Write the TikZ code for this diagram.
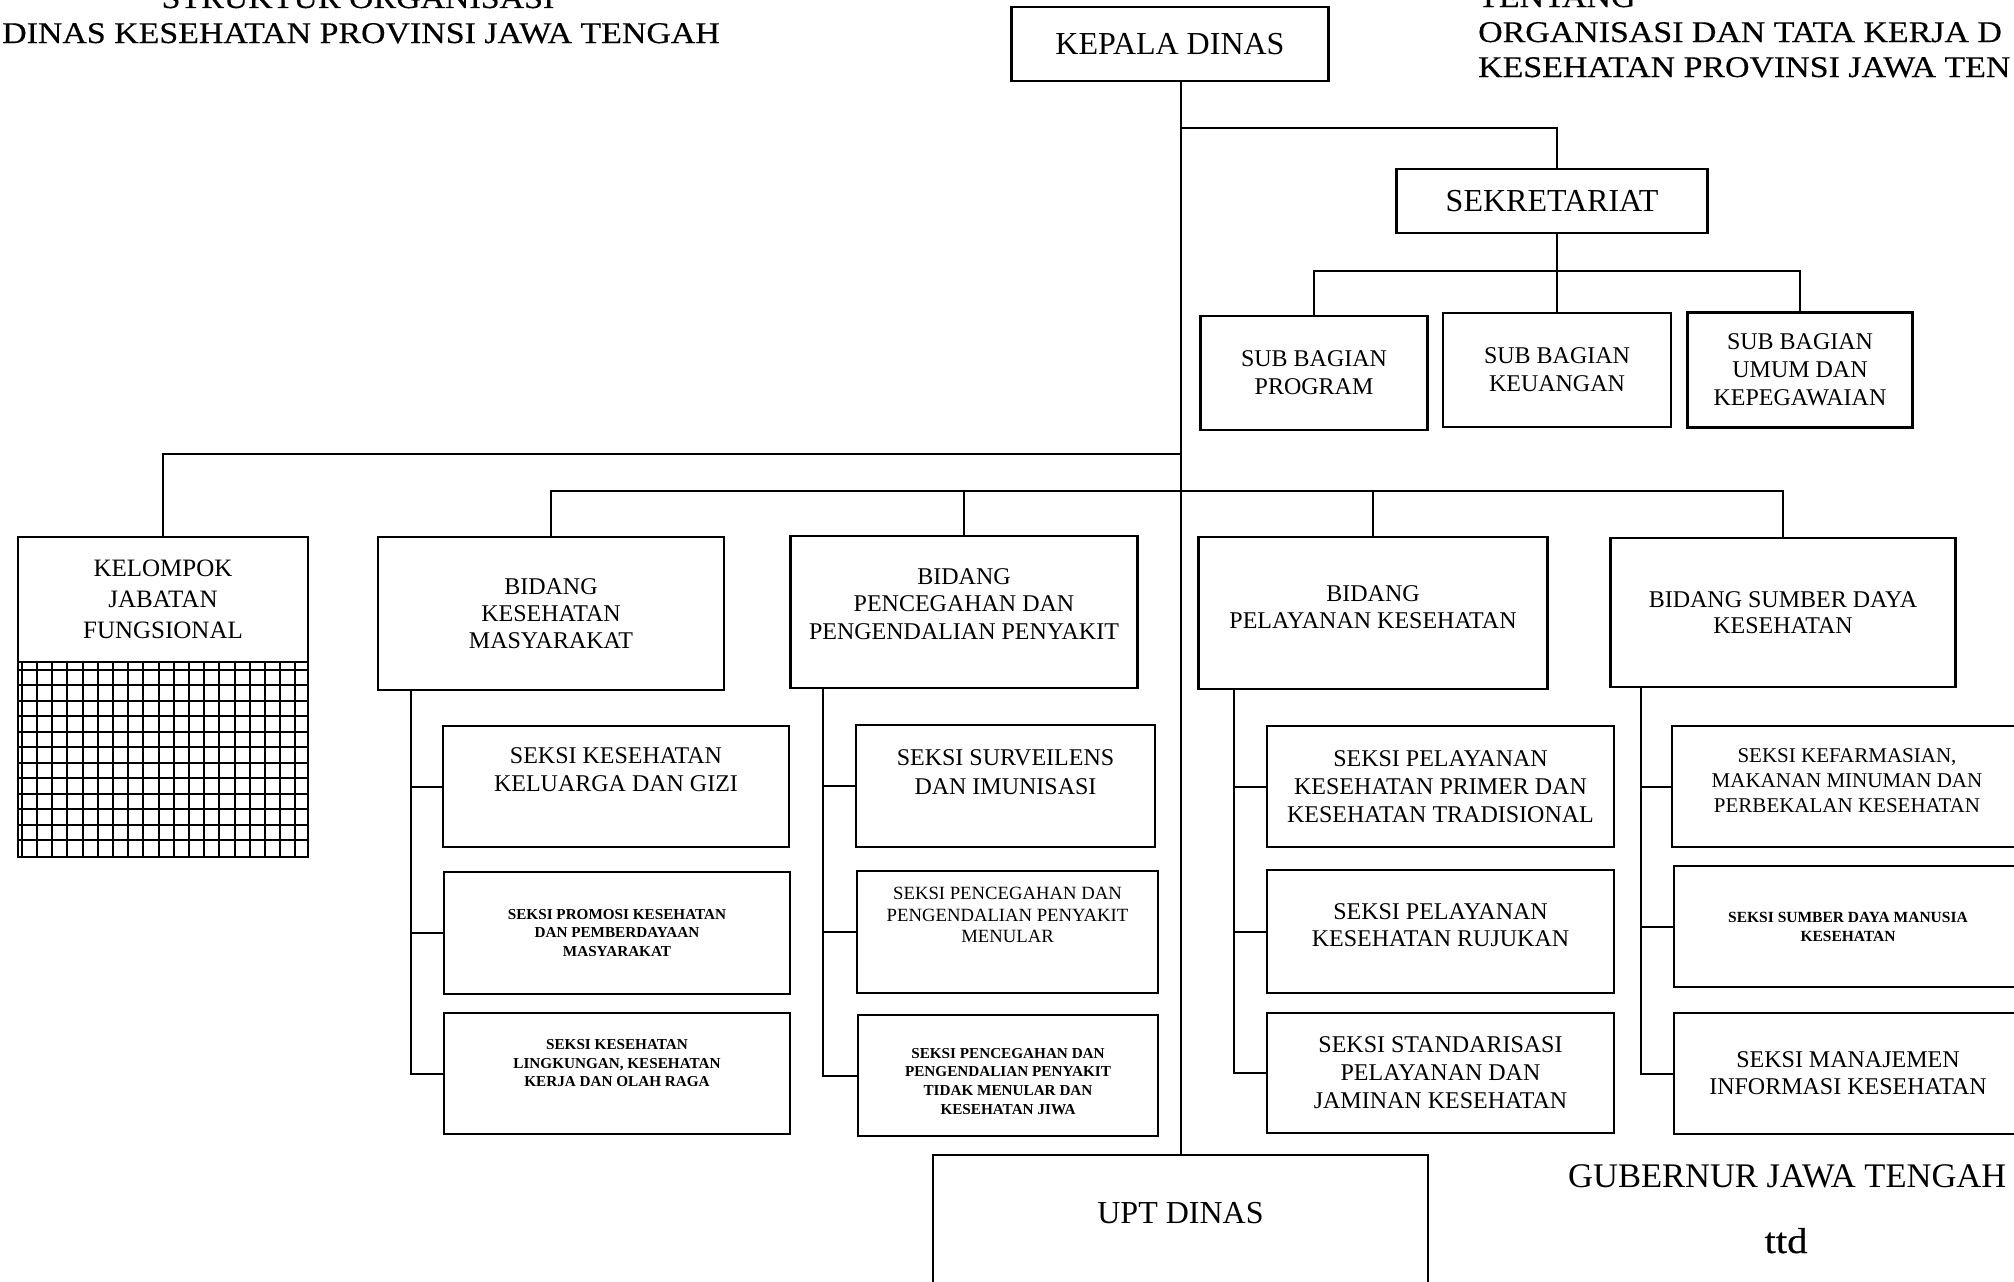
\documentclass[tikz,border=0pt]{standalone}
\usepackage{fontspec}
\setmainfont{Liberation Serif}
\newfontfamily\headfont{Liberation Serif}[FakeStretch=1.13, FakeBold=0.35]
\usetikzlibrary{positioning}
\newcommand{\fsize}[2]{\fontsize{#1}{#2}\selectfont}
\newcommand{\liftbox}[2]{\raisebox{#1}[\height][\depth]{\begin{tabular}{@{}c@{}}#2\end{tabular}}}

\begin{document}
\begin{tikzpicture}[x=1pt, y=-1pt,
    box/.style={draw, line width=2.6pt, rectangle, inner sep=0pt, outer sep=0pt, align=center},
    sz/.style 2 args={minimum width=#1pt, minimum height=#2pt},
    big/.style={box, font=\fsize{32}{36}},
    mid/.style={box, font=\fsize{24}{28}},
    small/.style={box, font=\bfseries\fsize{15.2}{18.5}},
    link/.style={line width=2pt},
    grid/.style={line width=2pt},
    head/.style={inner sep=0pt, font=\headfont\fsize{30}{35}}]
            \fill[white] (0,0) rectangle (2014,1282);
            \useasboundingbox (0,0) rectangle (2014,1282);

            \node[head, anchor=base] (struktur) at (358,8) {STRUKTUR ORGANISASI};
            \node[head, anchor=base west] (dinas) at (2,43) {DINAS KESEHATAN PROVINSI JAWA TENGAH};
            \node[head, anchor=base west] (tentang) at (1478,7) {TENTANG};
            \node[head, anchor=base west] (orgtata) at (1478,42) {ORGANISASI DAN TATA KERJA D};
            \node[head, anchor=base west] (kesprov) at (1478,77) {KESEHATAN PROVINSI JAWA TEN};

            \node[big, sz={317}{74}] (kepala) at (1170,44) {KEPALA DINAS};
            \node[big, sz={311}{64}] (sekre) at (1552,201) {SEKRETARIAT};
            \node[mid, sz={227}{114}] (program) at (1314,373) {SUB BAGIAN\\PROGRAM};
            \node[mid, sz={228}{114}] (keuangan) at (1557,370) {SUB BAGIAN\\KEUANGAN};
            \node[mid, sz={225}{115}] (umum) at (1800,370) {SUB BAGIAN\\UMUM DAN\\KEPEGAWAIAN};

            \node[box, sz={290}{125}, font=\fsize{25}{31}] (kelompok) at (163,599.5) {KELOMPOK\\JABATAN\\FUNGSIONAL};
            \node[box, sz={290}{195}, below=0pt of kelompok] (kjfgrid) {};

            \node[mid, sz={346}{153}, font=\fsize{24}{27}] (kesmas) at (551,613.5) {BIDANG\\KESEHATAN\\MASYARAKAT};
            \node[mid, sz={347}{152}, font=\fsize{24}{27.5}] (p2p) at (964,612) {\liftbox{6pt}{BIDANG\\PENCEGAHAN DAN\\PENGENDALIAN PENYAKIT}};
            \node[mid, sz={349}{152}, font=\fsize{24}{27}] (yankes) at (1373,613) {\liftbox{3pt}{BIDANG\\PELAYANAN KESEHATAN}};
            \node[mid, sz={345}{149}, font=\fsize{24}{26}] (sdk) at (1783,612.5) {BIDANG SUMBER DAYA\\KESEHATAN};

            \node[mid, sz={346}{121}] (kesga) at (616,786.5) {\liftbox{15pt}{SEKSI KESEHATAN\\KELUARGA DAN GIZI}};
            \node[small, sz={346}{122}] (promkes) at (617,933) {SEKSI PROMOSI KESEHATAN\\DAN PEMBERDAYAAN\\MASYARAKAT};
            \node[small, sz={346}{121}] (kesling) at (617,1073.5) {\liftbox{9pt}{SEKSI KESEHATAN\\LINGKUNGAN, KESEHATAN\\KERJA DAN OLAH RAGA}};

            \node[mid, sz={299}{122}, font=\fsize{24}{29}] (surv) at (1005.5,786) {\liftbox{12pt}{SEKSI SURVEILENS\\DAN IMUNISASI}};
            \node[box, sz={301}{122}, font=\fsize{18.7}{21.3}] (p2pm) at (1007.5,932) {\liftbox{15pt}{SEKSI PENCEGAHAN DAN\\PENGENDALIAN PENYAKIT\\MENULAR}};
            \node[small, sz={300}{121}, font=\bfseries\fsize{15.2}{18.7}] (p2ptm) at (1008,1075.5) {\liftbox{-7pt}{SEKSI PENCEGAHAN DAN\\PENGENDALIAN PENYAKIT\\TIDAK MENULAR DAN\\KESEHATAN JIWA}};

            \node[mid, sz={347}{121}] (primer) at (1440.5,786.5) {SEKSI PELAYANAN\\KESEHATAN PRIMER DAN\\KESEHATAN TRADISIONAL};
            \node[mid, sz={347}{123}, font=\fsize{24}{27.7}] (rujukan) at (1440.5,931.5) {\liftbox{4pt}{SEKSI PELAYANAN\\KESEHATAN RUJUKAN}};
            \node[mid, sz={347}{120}] (standar) at (1440.5,1073) {SEKSI STANDARISASI\\PELAYANAN DAN\\JAMINAN KESEHATAN};

            \node[box, sz={350}{121}, font=\fsize{21}{25}] (farmasi) at (1847,786.5) {\liftbox{4pt}{SEKSI KEFARMASIAN,\\MAKANAN MINUMAN DAN\\PERBEKALAN KESEHATAN}};
            \node[small, sz={348}{121}, font=\bfseries\fsize{15.5}{19}] (sdm) at (1848,926.5) {SEKSI SUMBER DAYA MANUSIA\\KESEHATAN};
            \node[mid, sz={348}{121}, font=\fsize{24}{27.3}] (sim) at (1848,1073.5) {SEKSI MANAJEMEN\\INFORMASI KESEHATAN};

            \node[big, sz={495}{140}] (upt) at (1180.5,1225) {\liftbox{9pt}{UPT DINAS}};

            \node[anchor=base west, inner sep=0pt, font=\fsize{34.5}{40}] (gubernur) at (1568,1187) {GUBERNUR JAWA TENGAH};
            \node[head, anchor=base, font=\headfont\fsize{36}{40}] (ttd) at (1786,1253) {ttd};

            \foreach \i in {0,...,18}
                \draw[grid] ([xshift=3.7pt+15.2pt*\i]kjfgrid.north west) -- ([xshift=3.7pt+15.2pt*\i]kjfgrid.south west);
            \foreach \j in {0,...,11}
                \draw[grid] ([yshift=-8pt-15.45pt*\j]kjfgrid.north west) -- ([yshift=-8pt-15.45pt*\j]kjfgrid.north east);

            \coordinate (sekjoint) at (1181,128);
            \coordinate (subbar) at (1557,271);
            \coordinate (kjfjoint) at (1181,454);
            \coordinate (bidbar) at (1181,491);

            \draw[link] (kepala.south -| upt.north) -- (upt.north);
            \draw[link] (sekjoint) -| (sekre.north -| keuangan.north);
            \draw[link] (sekre.south -| keuangan.north) -- (keuangan.north);
            \draw[link] (program.north) |- (subbar) -| (umum.north);
            \draw[link] (kjfjoint) -| (kelompok.north);
            \draw[link] (kesmas.north) |- (bidbar) -| (sdk.north);
            \draw[link] (p2p.north) -- (p2p.north |- bidbar);
            \draw[link] (yankes.north) -- (yankes.north |- bidbar);

            \foreach \b/\dx/\first/\second/\last in {kesmas/33/kesga/promkes/kesling, p2p/32/surv/p2pm/p2ptm, yankes/35/primer/rujukan/standar, sdk/30/farmasi/sdm/sim} {
                \coordinate (\b-rail) at ([xshift=\dx pt]\b.south west);
                \draw[link] (\b-rail) |- (\last.west);
                \draw[link] (\first.west) -- (\first.west -| \b-rail);
                \draw[link] (\second.west) -- (\second.west -| \b-rail);
            }
\end{tikzpicture}
\end{document}
